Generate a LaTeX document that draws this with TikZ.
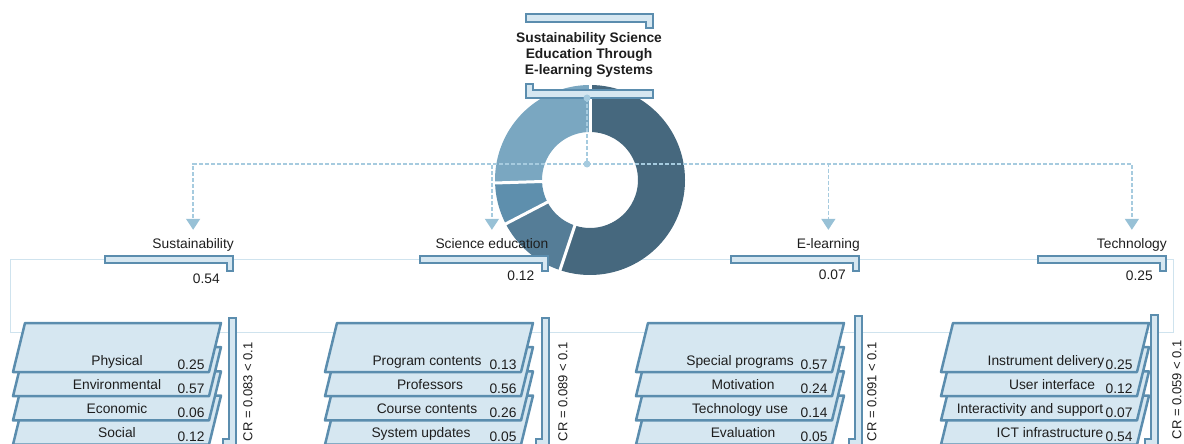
\documentclass[tikz,border=0pt]{standalone}
\usepackage{fontspec}
\setmainfont{Liberation Sans}
\usetikzlibrary{arrows.meta}
\definecolor{framelight}{HTML}{CFE3EE}
\definecolor{linkblue}{HTML}{A6CBDF}
\definecolor{tipblue}{HTML}{98C1D6}
\definecolor{edgeblue}{HTML}{5B8DAE}
\definecolor{paneblue}{HTML}{D6E7F1}
\definecolor{donutA}{HTML}{46687E}
\definecolor{donutB}{HTML}{557D97}
\definecolor{donutC}{HTML}{5E8FAD}
\definecolor{donutD}{HTML}{7AA7C1}
\definecolor{bodytext}{HTML}{1E1E1E}

\begin{document}
\begin{tikzpicture}[
    x=1pt, y=-1pt,
    every node/.style={font=\fontsize{13.8}{16.3}\selectfont, text=bodytext, inner sep=0pt},
    bracket/.style={
        draw=edgeblue,
        fill=paneblue,
        line width=2pt
    },
    pane/.style={
        draw=edgeblue,
        fill=paneblue,
        line width=2.5pt,
        line join=round
    },
    link/.style={
        draw=linkblue,
        line width=1.5pt,
        dash pattern=on 4pt off 2pt,
        -{Triangle[width=14pt,length=11pt,color=tipblue]},
        shorten >=8pt
    },
    hubline/.style={draw=linkblue, line width=1.5pt, dash pattern=on 4pt off 2pt},
    crtext/.style={rotate=90, anchor=east, font=\fontsize{13}{15}\selectfont}
]
    \useasboundingbox (0,0) rectangle (1184,444);
    \clip (0,0) rectangle (1184,444);

    % === FRAME ===
    \draw[framelight, line width=1pt] (10,259) rectangle (1173,332);

    % === DONUT OF WEIGHTS ===
    \begin{scope}[shift={(590,180)}, yscale=-1]
        \foreach \a/\b/\c in {90/-108.4/donutA, -108.4/-152.5/donutB, -152.5/-178.2/donutC, -178.2/-270/donutD} {
            \fill[\c] (\a:95) arc[start angle=\a, end angle=\b, radius=95]
                -- (\b:48) arc[start angle=\b, end angle=\a, radius=48] -- cycle;
        }
        \foreach \a in {90,-108.4,-152.5,-178.2} {
            \draw[white, line width=3pt] (\a:46) -- (\a:97);
        }
    \end{scope}

    % === GOAL ===
    \draw[bracket] (526,14) -- (653,14) -- (653,28) -- (646,28) -- (646,22) -- (526,22) -- cycle;
    \draw[bracket] (526,84) -- (533,84) -- (533,90) -- (653,90) -- (653,98) -- (526,98) -- cycle;
    \node[font=\bfseries\fontsize{13.8}{16.3}\selectfont, align=center] (title) at (589,55)
        {Sustainability Science\\Education Through\\E-learning Systems};

    \coordinate (titledot) at (587,98);
    \coordinate (hub) at (587,164);

    % === CRITERIA ===
    \foreach \xr/\lname/\lval/\nm/\vy in {233/Sustainability/0.54/sus/283, 547.5/Science education/0.12/sci/280,
                                          859/E-learning/0.07/elr/279, 1166/Technology/0.25/tec/280} {
        \draw[bracket] (\xr-128,256) -- (\xr,256) -- (\xr,271) -- (\xr-6,271) -- (\xr-6,263) -- (\xr-128,263) -- cycle;
        \node[anchor=base east] (\nm) at (\xr+1,248) {\lname};
        \node[anchor=base east] (\nm-w) at (\xr-13,\vy) {\lval};
    }

    % Links from the goal
    \draw[hubline] (titledot) -- (hub);
    \foreach \nm in {sus,sci,elr,tec} {
        \draw[link] (hub) -| (\nm.north);
    }
    \fill[linkblue] (titledot) circle (3.5);
    \fill[linkblue] (hub) circle (3.5);

    % === SUSTAINABILITY SUB-CRITERIA ===
    \foreach \i/\name/\val/\dx in {3/Social/0.12/92, 2/Economic/0.06/92, 1/Environmental/0.57/92, 0/Physical/0.25/92} {
        \pgfmathsetmacro{\yt}{323+24.2*\i}
        \draw[pane] (25,\yt) -- ++(196,0) -- ++(-12,49) -- ++(-196,0) -- cycle;
        \node[anchor=base] (sus-\i) at (25+\dx,\yt+42) {\name};
        \node[anchor=base] (sus-v\i) at (25+166,\yt+46) {\val};
    }

    % === SCIENCE EDUCATION SUB-CRITERIA ===
    \foreach \i/\name/\val/\dx in {3/System updates/0.05/84, 2/Course contents/0.26/90, 1/Professors/0.56/93, 0/Program contents/0.13/90} {
        \pgfmathsetmacro{\yt}{323+24.2*\i}
        \draw[pane] (337,\yt) -- ++(196,0) -- ++(-12,49) -- ++(-196,0) -- cycle;
        \node[anchor=base] (sci-\i) at (337+\dx,\yt+42) {\name};
        \node[anchor=base] (sci-v\i) at (337+166,\yt+46) {\val};
    }

    % === E-LEARNING SUB-CRITERIA ===
    \foreach \i/\name/\val/\dx in {3/Evaluation/0.05/95, 2/Technology use/0.14/92, 1/Motivation/0.24/95, 0/Special programs/0.57/92} {
        \pgfmathsetmacro{\yt}{323+24.2*\i}
        \draw[pane] (648,\yt) -- ++(196,0) -- ++(-12,49) -- ++(-196,0) -- cycle;
        \node[anchor=base] (elr-\i) at (648+\dx,\yt+42) {\name};
        \node[anchor=base] (elr-v\i) at (648+166,\yt+46) {\val};
    }

    % === TECHNOLOGY SUB-CRITERIA ===
    \foreach \i/\name/\val/\dx in {3/ICT infrastructure/0.54/97, 2/Interactivity and support/0.07/77, 1/User interface/0.12/99, 0/Instrument delivery/0.25/93} {
        \pgfmathsetmacro{\yt}{323+24.2*\i}
        \draw[pane] (953,\yt) -- ++(196,0) -- ++(-12,49) -- ++(-196,0) -- cycle;
        \node[anchor=base] (tec-\i) at (953+\dx,\yt+42) {\name};
        \node[anchor=base] (tec-v\i) at (953+166,\yt+46) {\val};
    }

    % === CONSISTENCY RATIOS ===
    \foreach \xb/\yb in {229/318, 542/318, 855/316, 1151/315} {
        \draw[bracket] (\xb,\yb) -- (\xb+7,\yb) -- (\xb+7,452) -- (\xb-6,452) -- (\xb-6,439) -- (\xb,439) -- cycle;
    }
    \node[crtext] (cr-sus) at (248,342) {CR = 0.083 < 0.1};
    \node[crtext] (cr-sci) at (563,342) {CR = 0.089 < 0.1};
    \node[crtext] (cr-elr) at (872,342) {CR = 0.091 < 0.1};
    \node[crtext] (cr-tec) at (1177,340) {CR = 0.059 < 0.1};
\end{tikzpicture}
\end{document}
